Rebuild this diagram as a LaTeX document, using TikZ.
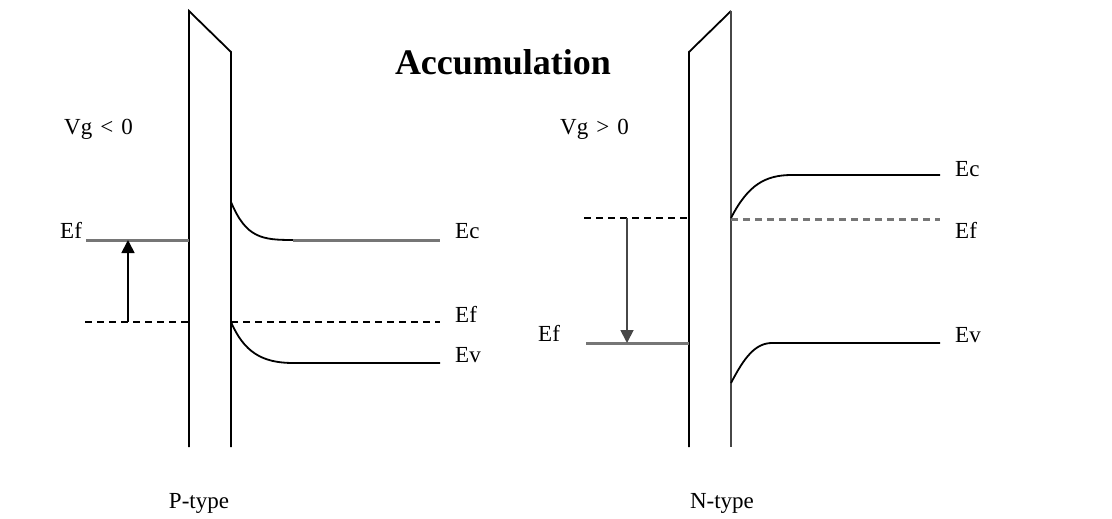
\documentclass[tikz,border=0pt]{standalone}
\usepackage{fontspec}
\setmainfont{Liberation Serif}
\usetikzlibrary{arrows.meta}
\definecolor{Band}{HTML}{767676}

\begin{document}
\begin{tikzpicture}[
  x=1pt,y=-1pt,
  lbl/.style={font=\fontsize{23}{25}\selectfont,inner sep=0pt,anchor=base west},
  level/.style={line width=1.8pt},
  grey/.style={level,draw=Band,line width=3pt},
  fermi/.style={level,dash pattern=on 7pt off 5pt},
  arrow/.style={-{Triangle[length=13pt,width=13pt]},line width=1.8pt}
]
\useasboundingbox (0,0) rectangle (1112,519);
% title
\node[font=\fontsize{36}{38}\selectfont\bfseries,inner sep=0pt,anchor=base] (title) at (503,75) {Accumulation};

% P-type, Vg < 0
\draw[level] (189,447) -- (189,11) -- (231,52) -- (231,447);
\draw[grey] (86,240) -- (189,240);
\draw[fermi] (85,322) -- (189,322);
\draw[fermi] (231,322) -- (440,322);
\draw[level] (231,202) .. controls (246,238) and (262,240) .. (293,240);
\draw[grey] (293,240) -- (440,240);
\draw[level] (231,322) .. controls (244,352) and (262,363) .. (293,363) -- (440,363);
\coordinate (pbot) at (128,322);
\coordinate (ptop) at (128,240);
\draw[arrow] (pbot) -- (ptop);
\node[lbl] (pvg) at (64,135) {Vg\hspace{0.35em}<\hspace{0.35em}0};
\node[lbl] (pefm) at (60,238) {Ef};
\node[lbl] (pec) at (455,238) {Ec};
\node[lbl] (pef) at (455,322) {Ef};
\node[lbl] (pev) at (455,362) {Ev};
\node[lbl,anchor=base] (ptype) at (199,508) {P-type};

% N-type, Vg > 0
\draw[level] (689,447) -- (689,52) -- (731,11);
\draw[level,draw=Band!60!black] (731,11) -- (731,447);
\draw[fermi] (584,218) -- (689,218);
\draw[fermi,draw=Band,line width=3pt] (731,219) -- (940,219);
\draw[grey] (586,343) -- (689,343);
\draw[level] (731,218) .. controls (748,185) and (765,175) .. (792,175) -- (940,175);
\draw[level] (731,383) .. controls (744,358) and (755,343) .. (772,343) -- (940,343);
\coordinate (ntop) at (627,218);
\coordinate (nbot) at (627,343);
\draw[arrow,draw=Band!60!black] (ntop) -- (nbot);
\node[lbl] (nvg) at (560,134) {Vg\hspace{0.35em}>\hspace{0.35em}0};
\node[lbl] (nefm) at (538,341) {Ef};
\node[lbl] (nec) at (955,176) {Ec};
\node[lbl] (nef) at (955,238) {Ef};
\node[lbl] (nev) at (955,342) {Ev};
\node[lbl,anchor=base] (ntype) at (722,508) {N-type};
\end{tikzpicture}
\end{document}
